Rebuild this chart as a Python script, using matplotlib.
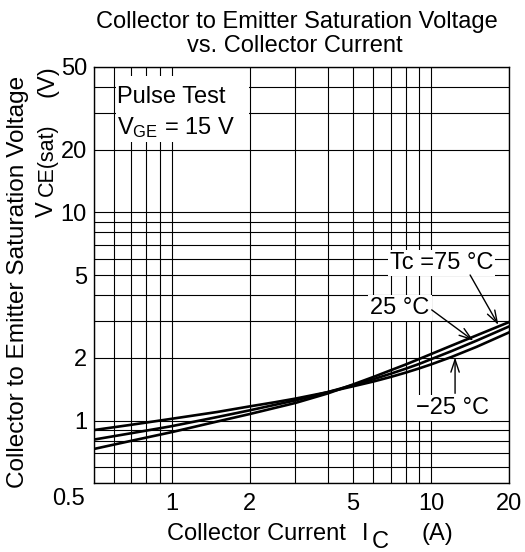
import matplotlib
matplotlib.use("Agg")
import numpy as np
import matplotlib.pyplot as plt
from matplotlib.patches import Rectangle
from matplotlib.ticker import FixedLocator, LogLocator, NullFormatter

plt.rcParams["font.family"] = ["Liberation Sans", "DejaVu Sans"]
plt.rcParams["mathtext.fontset"] = "custom"
plt.rcParams["mathtext.rm"] = "Liberation Sans"
plt.rcParams["mathtext.it"] = "Liberation Sans:italic"

W, H = 525, 552
FS = 17

# collector current (A)
ic = [0.5, 0.7, 1, 1.5, 2, 2.5, 3, 4, 5, 6, 7, 8, 9, 10, 12, 15, 20]
# VCE(sat) (V) per case temperature
vce_m25 = [0.90, 0.955, 1.02, 1.10, 1.17, 1.225, 1.275, 1.37, 1.46, 1.54, 1.62, 1.70, 1.78, 1.86, 2.02, 2.26, 2.65]
vce_25 = [0.81, 0.87, 0.94, 1.04, 1.12, 1.19, 1.25, 1.37, 1.48, 1.58, 1.68, 1.775, 1.87, 1.97, 2.155, 2.42, 2.83]
vce_75 = [0.73, 0.80, 0.88, 0.99, 1.075, 1.15, 1.215, 1.35, 1.49, 1.62, 1.745, 1.86, 1.975, 2.085, 2.29, 2.565, 2.97]

x_ticks = [1, 2, 5, 10, 20]
y_ticks = [1, 2, 5, 10, 20, 50]

# curve labels: text, text position, arrow start, arrow tip (data coords)
curve_labels = [
    ("Tc =75 °C", (11.0, 5.33), (14.16, 5.0), (18.2, 2.88)),
    ("25 °C", (7.6, 3.25), (10.07, 3.40), (14.58, 2.42)),
    ("\u221225 °C", (12.1, 1.075), (12.39, 1.352), (12.39, 2.01)),
]


def fig_px(x, y):
    """pixel position (from top-left) -> figure fraction"""
    return x / W, 1 - y / H


fig = plt.figure(figsize=(W / 100, H / 100), dpi=100)
ax = fig.add_axes([93.5 / W, 1 - 483.3 / H, 415.5 / W, 416.6 / H])

for v in (vce_m25, vce_25, vce_75):
    ax.plot(ic, v, color="black", lw=1.9, zorder=2)

ax.set_xscale("log")
ax.set_yscale("log")
ax.set_xlim(0.5, 20)
ax.set_ylim(0.5, 50)

ax.xaxis.set_major_locator(FixedLocator(x_ticks))
ax.yaxis.set_major_locator(FixedLocator(y_ticks))
ax.set_xticklabels([str(t) for t in x_ticks])
ax.set_yticklabels([str(t) for t in y_ticks])
ax.xaxis.set_minor_locator(LogLocator(base=10, subs=np.arange(2, 10)))
ax.yaxis.set_minor_locator(LogLocator(base=10, subs=np.arange(2, 10)))
ax.xaxis.set_minor_formatter(NullFormatter())
ax.yaxis.set_minor_formatter(NullFormatter())
ax.tick_params(which="both", length=0, labelsize=FS)
ax.tick_params(axis="x", pad=7)
ax.tick_params(axis="y", pad=4.7)
ax.grid(which="both", color="black", lw=0.8)
ax.set_axisbelow(True)
for s in ax.spines.values():
    s.set_linewidth(1.0)

# shared corner label
ax.text(-0.06, -0.052, "0.5", transform=ax.transAxes, ha="center", va="baseline", fontsize=FS)

# test condition note on a white patch that hides the grid
ax.add_patch(Rectangle((0.053, 0.819), 0.321, 0.159, transform=ax.transAxes,
                       facecolor="white", edgecolor="none", zorder=1))
ax.text(0.0558, 0.912, "Pulse Test", transform=ax.transAxes, fontsize=FS, va="baseline", zorder=3)
ax.text(0.0558, 0.8385, r"V$_{\mathrm{GE}}$ = 15 V", transform=ax.transAxes, fontsize=FS,
        va="baseline", zorder=3)

for label, pos, start, tip in curve_labels:
    ax.text(pos[0], pos[1], label, fontsize=FS, ha="center", va="baseline", zorder=4,
            bbox=dict(facecolor="white", edgecolor="none", pad=1.5))
    ax.annotate("", xy=tip, xytext=start, zorder=5,
                arrowprops=dict(arrowstyle="->,head_length=0.9,head_width=0.3", color="black",
                                lw=1.0, shrinkA=0, shrinkB=0, mutation_scale=10))

# title
fig.text(*fig_px(296.5, 28.3), "Collector to Emitter Saturation Voltage", ha="center", va="baseline", fontsize=FS)
fig.text(*fig_px(295, 51.7), "vs. Collector Current", ha="center", va="baseline", fontsize=FS)

# x label
fig.text(*fig_px(166.7, 540), "Collector Current", ha="left", va="baseline", fontsize=FS)
fig.text(*fig_px(361.7, 540), "I", ha="left", va="baseline", fontsize=FS)
fig.text(*fig_px(371.7, 548), "C", ha="left", va="baseline", fontsize=FS)
fig.text(*fig_px(421.7, 540), "(A)", ha="left", va="baseline", fontsize=FS)

# y label
rot = dict(rotation=90, rotation_mode="anchor", va="baseline")
fig.text(*fig_px(24, 282), "Collector to Emitter Saturation Voltage", ha="center", fontsize=17.6, **rot)
fig.text(*fig_px(53, 217), "V", ha="left", fontsize=FS, **rot)
fig.text(*fig_px(53, 196), "CE(sat)", ha="left", fontsize=15.5, **rot)
fig.text(*fig_px(53, 65), "(V)", ha="right", fontsize=FS, **rot)

fig.savefig("out.png", dpi=100)
